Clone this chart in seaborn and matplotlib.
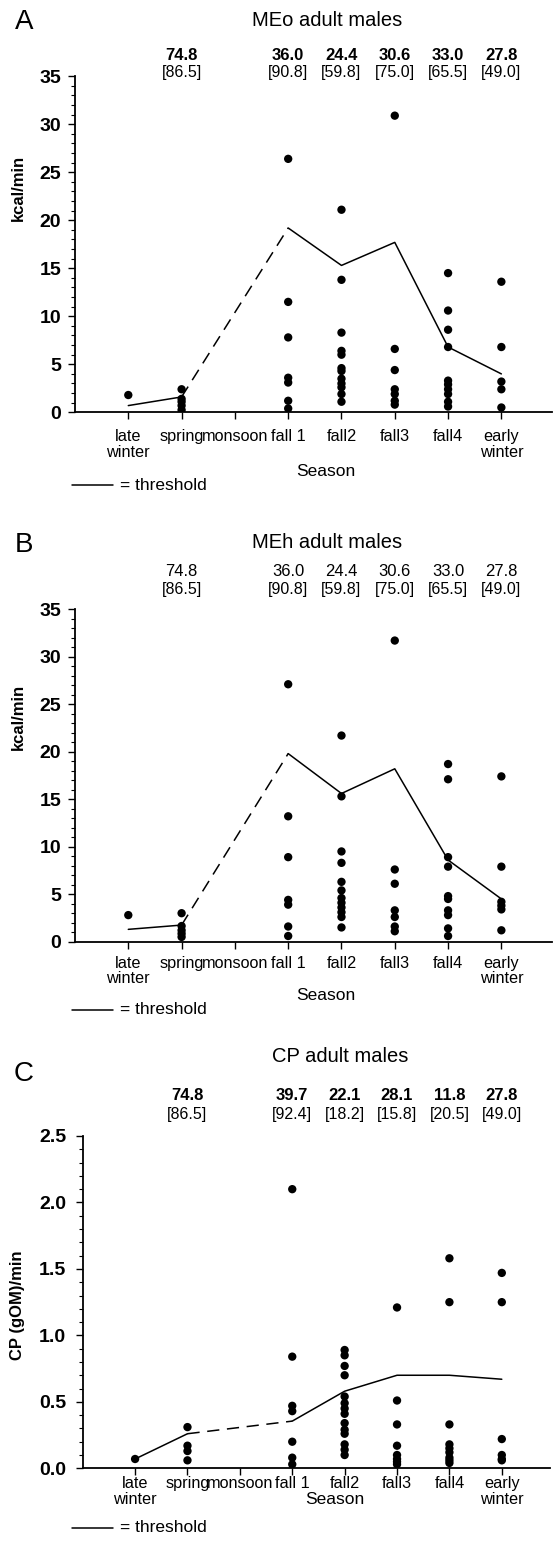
import numpy as np
import pandas as pd
import seaborn as sns
import matplotlib.pyplot as plt
from matplotlib.lines import Line2D
from matplotlib.ticker import MultipleLocator, FormatStrFormatter

sns.set_style("ticks")
plt.rcParams['font.family'] = ['Liberation Sans', 'DejaVu Sans']
for k in ["text.color", "axes.labelcolor", "xtick.color", "ytick.color", "axes.edgecolor"]:
    plt.rcParams[k] = "black"

# ---------------- data ----------------
seasons = ["late\nwinter", "spring", "monsoon", "fall 1", "fall2", "fall3", "fall4", "early\nwinter"]
header_seasons = ["spring", "fall 1", "fall2", "fall3", "fall4", "early\nwinter"]

# Panel A: MEo
meo_late_winter = [1.8]
meo_spring = [2.4, 1.4, 1.1, 0.7, 0.25]
meo_fall1 = [26.4, 11.5, 7.8, 3.6, 3.1, 1.2, 0.4]
meo_fall2 = [21.1, 13.8, 8.3, 6.4, 6.0, 4.6, 4.3, 3.5, 3.0, 2.6, 1.9, 1.1]
meo_fall3 = [30.9, 6.6, 4.4, 2.4, 1.9, 1.2, 0.8]
meo_fall4 = [14.5, 10.6, 8.6, 6.8, 3.3, 2.9, 2.4, 1.9, 1.1, 0.6]
meo_early_winter = [13.6, 6.8, 3.2, 2.4, 0.5]
meo_threshold = [0.7, 1.6, np.nan, 19.2, 15.3, 17.7, 6.8, 4.0]
meo_top = ["74.8", "36.0", "24.4", "30.6", "33.0", "27.8"]
meo_brk = ["[86.5]", "[90.8]", "[59.8]", "[75.0]", "[65.5]", "[49.0]"]

# Panel B: MEh
meh_late_winter = [2.8]
meh_spring = [3.0, 1.65, 1.2, 0.85, 0.5]
meh_fall1 = [27.1, 13.2, 8.9, 4.4, 3.9, 1.6, 0.6]
meh_fall2 = [21.7, 15.3, 9.5, 8.3, 6.3, 5.4, 4.6, 4.1, 3.6, 3.1, 2.6, 1.5]
meh_fall3 = [31.7, 7.6, 6.1, 3.3, 2.6, 1.6, 1.1]
meh_fall4 = [18.7, 17.1, 8.9, 7.9, 4.8, 4.5, 3.3, 2.8, 1.4, 0.6]
meh_early_winter = [17.4, 7.9, 4.2, 3.8, 3.4, 1.2]
meh_threshold = [1.3, 1.75, np.nan, 19.8, 15.6, 18.2, 8.6, 4.5]
meh_top = ["74.8", "36.0", "24.4", "30.6", "33.0", "27.8"]
meh_brk = ["[86.5]", "[90.8]", "[59.8]", "[75.0]", "[65.5]", "[49.0]"]

# Panel C: CP
cp_late_winter = [0.07]
cp_spring = [0.31, 0.17, 0.13, 0.06]
cp_fall1 = [2.1, 0.84, 0.47, 0.43, 0.20, 0.08, 0.03]
cp_fall2 = [0.89, 0.85, 0.77, 0.70, 0.54, 0.49, 0.45, 0.41, 0.34, 0.29, 0.26, 0.18, 0.14, 0.10]
cp_fall3 = [1.21, 0.51, 0.33, 0.17, 0.10, 0.07, 0.05, 0.03]
cp_fall4 = [1.58, 1.25, 0.33, 0.18, 0.15, 0.12, 0.08, 0.06, 0.04]
cp_early_winter = [1.47, 1.25, 0.22, 0.10, 0.07, 0.06]
cp_threshold = [0.07, 0.26, np.nan, 0.355, 0.58, 0.70, 0.70, 0.67]
cp_top = ["74.8", "39.7", "22.1", "28.1", "11.8", "27.8"]
cp_brk = ["[86.5]", "[92.4]", "[18.2]", "[15.8]", "[20.5]", "[49.0]"]

W, H = 553, 1545
fig = plt.figure(figsize=(W / 100, H / 100), dpi=100)


def fx(px):
    return px / W


def fy(py):
    return 1 - py / H


def panel(letter, title, title_x, geom, groups, thr, tops, brks, top_bold,
          ylabel, ylabel_y, ylim, major, minor, fmt, xmax,
          hdr_y, title_y, letter_y, season_y, season_x, legend_y,
          xpad, ypad):
    left, right, top, bottom = geom
    ax = fig.add_axes([fx(left), fy(bottom), (right - left) / W, (bottom - top) / H])

    rows = []
    for s, vals in zip(seasons, groups):
        for v in vals:
            rows.append((seasons.index(s) + 1, v))
    df = pd.DataFrame(rows, columns=["pos", "value"])
    sns.scatterplot(data=df, x="pos", y="value", color="black", s=36,
                    edgecolor="none", ax=ax, legend=False, zorder=3)

    thr_df = pd.DataFrame({"pos": np.arange(1, len(seasons) + 1), "value": thr})
    seg_a = thr_df.iloc[0:2]
    seg_b = thr_df.iloc[[1, 3]]
    seg_c = thr_df.iloc[3:]
    sns.lineplot(data=seg_a, x="pos", y="value", color="black", lw=1.1, ax=ax)
    sns.lineplot(data=seg_b, x="pos", y="value", color="black", lw=1.1, ax=ax,
                 linestyle=(0, (8, 5)))
    sns.lineplot(data=seg_c, x="pos", y="value", color="black", lw=1.1, ax=ax)

    ax.set_xlim(0, xmax)
    ax.set_ylim(*ylim)
    ax.set_xticks(np.arange(1, len(seasons) + 1))
    ax.set_xticklabels(seasons, fontsize=11.7, linespacing=1.05)
    ax.yaxis.set_major_locator(MultipleLocator(major))
    ax.yaxis.set_minor_locator(MultipleLocator(minor))
    ax.yaxis.set_major_formatter(FormatStrFormatter(fmt))
    for lab in ax.get_yticklabels():
        lab.set_fontweight("bold")
        lab.set_fontsize(14)
    ax.tick_params(axis="y", which="major", length=5, width=1.0, pad=ypad, direction="out")
    ax.tick_params(axis="y", which="minor", length=3, width=0.8, direction="out")
    ax.tick_params(axis="x", which="major", length=5, width=1.0, pad=xpad, direction="out")
    ax.set_xlabel("")
    ax.set_ylabel("")
    for sp in ["top", "right"]:
        ax.spines[sp].set_visible(False)
    for sp in ["left", "bottom"]:
        ax.spines[sp].set_linewidth(1.3)

    # header numbers
    top_frac = lambda py: (bottom - py) / (bottom - top)
    for s, t, b in zip(header_seasons, tops, brks):
        p = seasons.index(s) + 1
        ax.text(p, top_frac(hdr_y[0]), t, transform=ax.get_xaxis_transform(),
                ha="center", va="center", fontsize=12,
                fontweight="bold" if top_bold else "normal", clip_on=False)
        ax.text(p, top_frac(hdr_y[1]), b, transform=ax.get_xaxis_transform(),
                ha="center", va="center", fontsize=11.5, clip_on=False)

    fig.text(fx(24), fy(letter_y), letter, fontsize=20, ha="center", va="center")
    fig.text(fx(title_x), fy(title_y), title, fontsize=14.5, ha="center", va="center")
    fig.text(fx(18), fy(ylabel_y), ylabel, fontsize=12, fontweight="bold",
             rotation=90, ha="center", va="center")
    fig.text(fx(season_x), fy(season_y), "Season", fontsize=12.5, ha="center", va="center")
    fig.add_artist(Line2D([fx(72), fx(113)], [fy(legend_y), fy(legend_y)],
                          color="black", lw=1.1, transform=fig.transFigure))
    fig.text(fx(120), fy(legend_y), "= threshold", fontsize=12.5, ha="left", va="center")
    return ax


panel("A", "MEo adult males", 327, (75, 552, 76.3, 412.3),
      [meo_late_winter, meo_spring, [], meo_fall1, meo_fall2, meo_fall3, meo_fall4, meo_early_winter],
      meo_threshold, meo_top, meo_brk, True,
      "kcal/min", 188, (0, 35), 5, 1, "%d", 8.95,
      (55, 72.7), 20, 22, 471, 326, 485, 7, 5)

panel("B", "MEh adult males", 327, (75, 552, 609.2, 941.7),
      [meh_late_winter, meh_spring, [], meh_fall1, meh_fall2, meh_fall3, meh_fall4, meh_early_winter],
      meh_threshold, meh_top, meh_brk, False,
      "kcal/min", 717, (0, 35), 5, 1, "%d", 8.95,
      (572, 589.3), 543, 545, 996, 326, 1010, 5, 5)

panel("C", "CP adult males", 340, (82.7, 550, 1136, 1468.3),
      [cp_late_winter, cp_spring, [], cp_fall1, cp_fall2, cp_fall3, cp_fall4, cp_early_winter],
      cp_threshold, cp_top, cp_brk, True,
      "CP (gOM)/min", 1305, (0, 2.5), 0.5, 0.1, "%.1f", 8.92,
      (1096, 1115), 1057, 1074, 1499, 335, 1528, 0.5, 7)

fig.savefig("out.png", dpi=100)
